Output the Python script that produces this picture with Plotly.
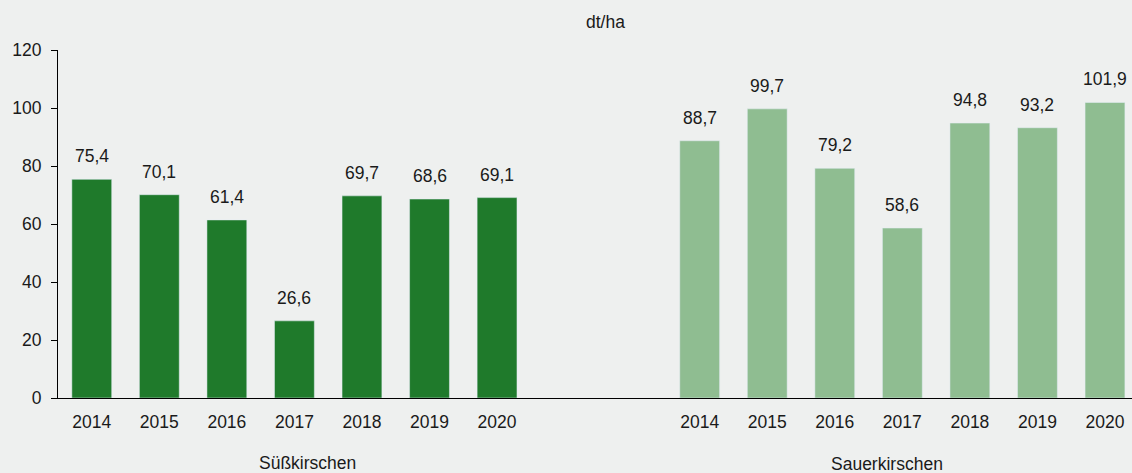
import plotly.graph_objects as go

years = ["2014", "2015", "2016", "2017", "2018", "2019", "2020"]
suess = [75.4, 70.1, 61.4, 26.6, 69.7, 68.6, 69.1]
sauer = [88.7, 99.7, 79.2, 58.6, 94.8, 93.2, 101.9]
groups = ["Süßkirschen", "Sauerkirschen"]
y_ticks = [0, 20, 40, 60, 80, 100, 120]

pos1 = list(range(len(years)))
pos2 = [p + len(years) + 2 for p in pos1]

def fmt(v):
    return f"{v:.1f}".replace(".", ",")

font = "Liberation Sans, Arial, sans-serif"
FS = 17.5
fig = go.Figure()
fig.add_trace(go.Bar(x=pos1, y=suess, marker_color="#1f7a2b", width=0.59,
                     name=groups[0], showlegend=False, hoverinfo="x+y"))
fig.add_trace(go.Bar(x=pos2, y=sauer, marker_color="#8fbd91", width=0.59,
                     name=groups[1], showlegend=False, hoverinfo="x+y"))

annotations = []
for xs, vals in ((pos1, suess), (pos2, sauer)):
    for x, v in zip(xs, vals):
        annotations.append(dict(x=x, y=v, xref="x", yref="y", text=fmt(v),
                                showarrow=False, yanchor="bottom", yshift=11,
                                font=dict(size=FS, color="#1a1a1a")))

annotations += [
    dict(text="dt/ha", x=0.51, y=1 + (50 - 22) / 348.0, xref="paper", yref="paper",
         showarrow=False, font=dict(size=FS), yanchor="middle"),
    dict(text=groups[0], x=3.2, y=-(463 - 398) / 348.0, xref="x", yref="paper",
         showarrow=False, font=dict(size=FS), yanchor="middle"),
    dict(text=groups[1], x=11.78, y=-(464 - 398) / 348.0, xref="x", yref="paper",
         showarrow=False, font=dict(size=FS), yanchor="middle"),
]

fig.update_layout(
    width=1132, height=473,
    paper_bgcolor="#eef0ef", plot_bgcolor="#eef0ef",
    margin=dict(l=58, r=0, t=50, b=75),
    font=dict(family=font, size=FS, color="#1a1a1a"),
    xaxis=dict(range=[-0.5, 15.4], tickvals=pos1 + pos2, ticktext=years + years,
               showline=True, linecolor="black", linewidth=1, ticks="",
               ticklabelstandoff=8,
               showgrid=False, zeroline=False, tickfont=dict(size=FS)),
    yaxis=dict(range=[0, 120], tickvals=y_ticks, showline=True, linecolor="black",
               linewidth=1, ticks="outside", ticklen=6, tickcolor="black",
               ticklabelstandoff=6,
               showgrid=False, zeroline=False, tickfont=dict(size=FS)),
    annotations=annotations,
)
fig.write_html("out.html", post_script="document.body.style.margin='0';",
               config={"displayModeBar": False})
